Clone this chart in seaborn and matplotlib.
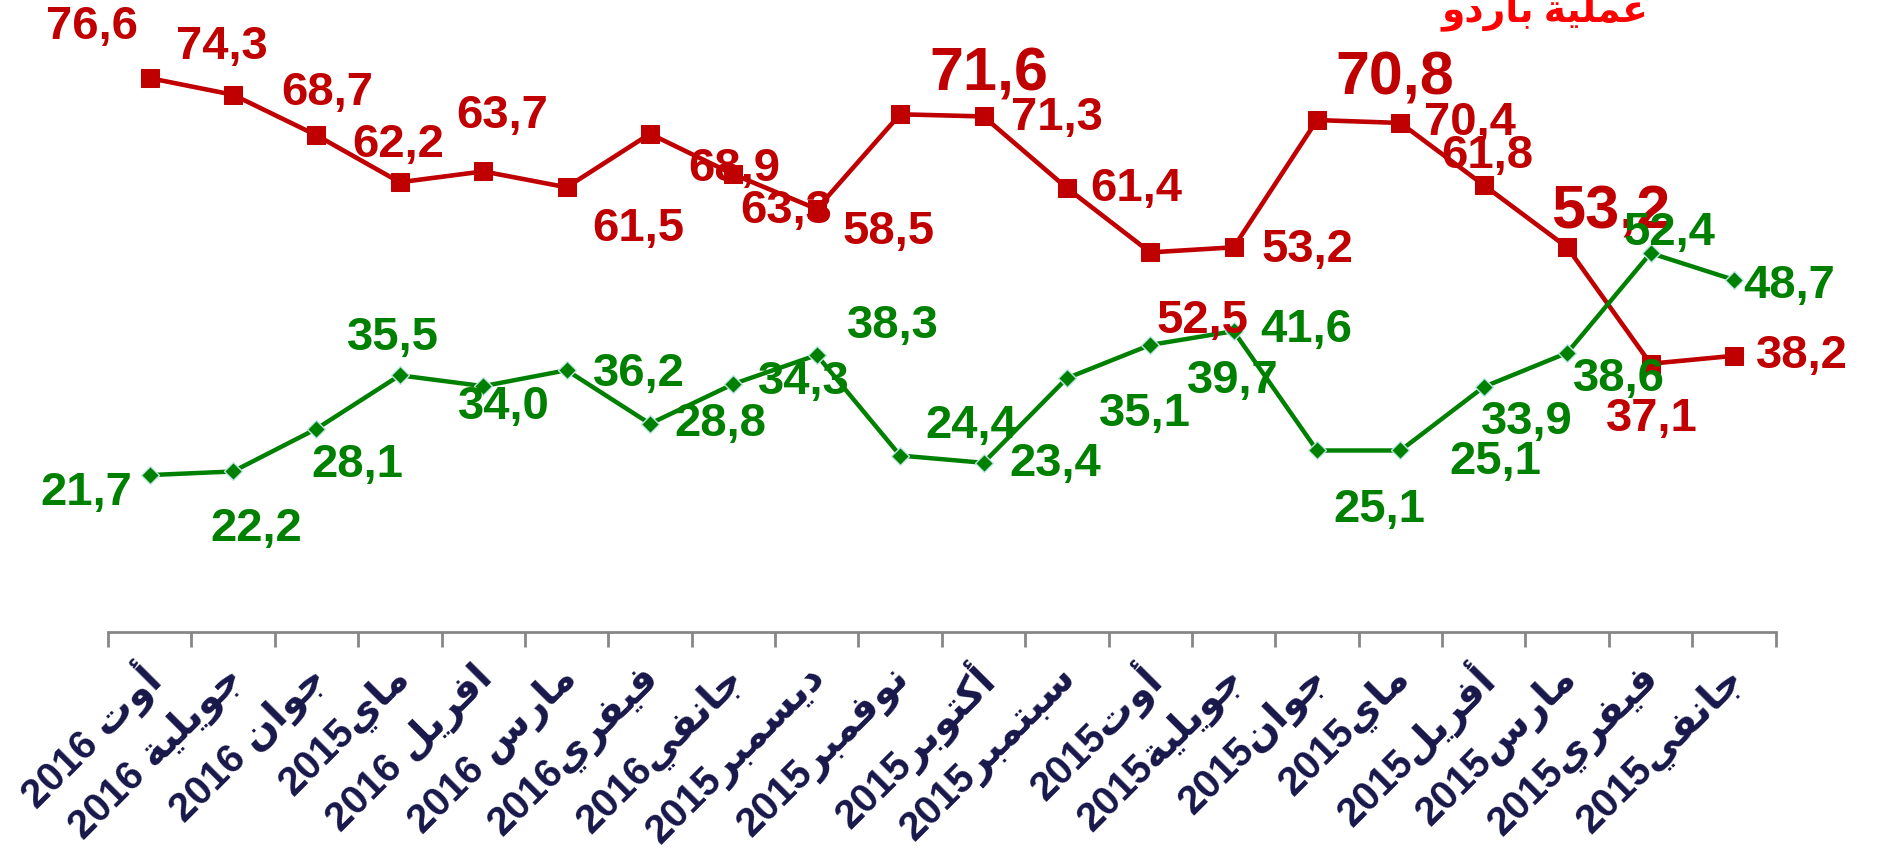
import re
import numpy as np
import pandas as pd
import matplotlib
matplotlib.use('Agg')
import matplotlib.pyplot as plt
import matplotlib.transforms as mtransforms
import seaborn as sns

# months, left to right on the chart
months = ['أوت 2016', 'جويلية 2016', 'جوان 2016', 'ماي2015', 'افريل 2016',
          'مارس 2016', 'فيفري2016', 'جانفي2016', 'ديسمبر2015', 'نوفمبر2015',
          'أكتوبر2015', 'سبتمبر2015', 'أوت2015', 'جويلية2015', 'جوان2015',
          'ماي2015', 'أفريل2015', 'مارس2015', 'فيفري2015', 'جانفي2015']

red_vals = [76.6, 74.3, 68.7, 62.2, 63.7, 61.5, 68.9, 63.3, 58.5, 71.6,
            71.3, 61.4, 52.5, 53.2, 70.8, 70.4, 61.8, 53.2, 37.1, 38.2]
green_vals = [21.7, 22.2, 28.1, 35.5, 34.0, 36.2, 28.8, 34.3, 38.3, 24.4,
              23.4, 35.1, 39.7, 41.6, 25.1, 25.1, 33.9, 38.6, 52.4, 48.7]
big_red = [9, 14, 17]

title_txt = 'عملية باردو'

# label offsets (px in the 1568 preview, y down)
red_off = [(-48, -43), (-9, -40), (9, -35), (-1, -31), (16, -46), (60, 35),
           (70, 29), (44, 31), (60, 19), (74, -33), (61, 1), (58, 1),
           (44, 57), (62, 2), (65, -34), (58, 0), (3, -24), (36, -29),
           (1, 46), (57, 0)]
green_off = [(-53, 15), (19, 48), (34, 30), (-6, -31), (17, 17), (60, 3),
             (59, 0), (59, -2), (64, -24), (59, -25), (60, 1), (65, 30),
             (69, 30), (61, -1), (52, 50), (79, 10), (36, 29), (43, 22),
             (16, -17), (46, 5)]

# --- minimal arabic shaping (matplotlib has no bidi/shaping) ---
FORMS = {
    'ا': ('\uFE8D', '\uFE8E', None, None),
    'أ': ('\uFE83', '\uFE84', None, None),
    'ب': ('\uFE8F', '\uFE90', '\uFE91', '\uFE92'),
    'ة': ('\uFE93', '\uFE94', None, None),
    'ت': ('\uFE95', '\uFE96', '\uFE97', '\uFE98'),
    'ج': ('\uFE9D', '\uFE9E', '\uFE9F', '\uFEA0'),
    'د': ('\uFEA9', '\uFEAA', None, None),
    'ر': ('\uFEAD', '\uFEAE', None, None),
    'س': ('\uFEB1', '\uFEB2', '\uFEB3', '\uFEB4'),
    'ع': ('\uFEC9', '\uFECA', '\uFECB', '\uFECC'),
    'ف': ('\uFED1', '\uFED2', '\uFED3', '\uFED4'),
    'ك': ('\uFED9', '\uFEDA', '\uFEDB', '\uFEDC'),
    'ل': ('\uFEDD', '\uFEDE', '\uFEDF', '\uFEE0'),
    'م': ('\uFEE1', '\uFEE2', '\uFEE3', '\uFEE4'),
    'ن': ('\uFEE5', '\uFEE6', '\uFEE7', '\uFEE8'),
    'ه': ('\uFEE9', '\uFEEA', '\uFEEB', '\uFEEC'),
    'و': ('\uFEED', '\uFEEE', None, None),
    'ي': ('\uFEF1', '\uFEF2', '\uFEF3', '\uFEF4'),
}


def shape(word):
    out = []
    for i, ch in enumerate(word):
        if ch not in FORMS:
            out.append(ch)
            continue
        prev = word[i - 1] if i > 0 else ''
        nxt = word[i + 1] if i + 1 < len(word) else ''
        jp = prev in FORMS and FORMS[prev][2] is not None
        jn = FORMS[ch][2] is not None and nxt in FORMS
        iso, fin, ini, med = FORMS[ch]
        out.append(med if jp and jn else fin if jp else ini if jn else iso)
    return ''.join(out)


def visual(text):
    runs = re.findall(r'\d+|\D+', text)
    return ''.join(r if r.isdigit() else shape(r)[::-1] for r in runs[::-1])


sns.set_style('white')
plt.rcParams['font.family'] = ['Liberation Sans', 'DejaVu Sans']

df = pd.DataFrame({'idx': np.arange(len(months)), 'red': red_vals, 'green': green_vals})

fig = plt.figure(figsize=(18.78, 8.5), dpi=100)
ax = fig.add_axes([0.0575, 0.2565, 0.888, 0.6805])

RED = '#C00000'
GREEN = '#008000'
sns.lineplot(data=df, x='idx', y='red', color=RED, lw=3.3, marker='s',
             markersize=13, markeredgecolor=RED, ax=ax, zorder=3)
sns.lineplot(data=df, x='idx', y='green', color=GREEN, lw=3.2, marker='D',
             markersize=9, markeredgecolor='#bfe6e6', markeredgewidth=1,
             ax=ax, zorder=4)

sc = 1878 / 1568
for i, v in enumerate(red_vals):
    dx, dy = red_off[i]
    ax.annotate(f'{v:.1f}'.replace('.', ','), (i, v), xytext=(dx * sc, -dy * sc),
                textcoords='offset pixels', ha='center', va='center',
                color=RED, fontweight='bold', fontsize=44 if i in big_red else 34,
                zorder=5)
for i, v in enumerate(green_vals):
    dx, dy = green_off[i]
    ax.annotate(f'{v:.1f}'.replace('.', ','), (i, v), xytext=(dx * sc, -dy * sc),
                textcoords='offset pixels', ha='center', va='center',
                color=GREEN, fontweight='bold', fontsize=34, zorder=5)

ax.set_xlim(-0.5, len(months) - 0.5)
ax.set_ylim(0, 80)
ax.set_xlabel('')
ax.set_ylabel('')
ax.set_yticks([])
for s in ['left', 'right', 'top']:
    ax.spines[s].set_visible(False)
ax.spines['bottom'].set_color('#868686')
ax.spines['bottom'].set_linewidth(2)

ax.set_xticks(np.arange(len(months)))
ax.set_xticklabels([visual(m) for m in months], rotation=45, ha='right',
                   va='center', rotation_mode='anchor', fontsize=29,
                   fontweight='bold', color='#17174a',
                   family=['Liberation Sans', 'DejaVu Sans Condensed', 'DejaVu Sans'])
ax.tick_params(axis='x', which='major', bottom=False, length=0, pad=29)
ax.set_xticks(np.arange(-0.5, len(months), 1), minor=True)
ax.tick_params(axis='x', which='minor', bottom=True, length=11, width=2,
               color='#868686', direction='out')
shift = mtransforms.ScaledTranslation(4 / 100, 0, fig.dpi_scale_trans)
for lab in ax.get_xticklabels():
    lab.set_transform(lab.get_transform() + shift)

fig.text(1545 / 1878, 1 - 21 / 850, visual(title_txt), color='#FF0000',
         fontsize=27, fontweight='bold', ha='center', va='baseline')

fig.savefig('out.png', dpi=100)
